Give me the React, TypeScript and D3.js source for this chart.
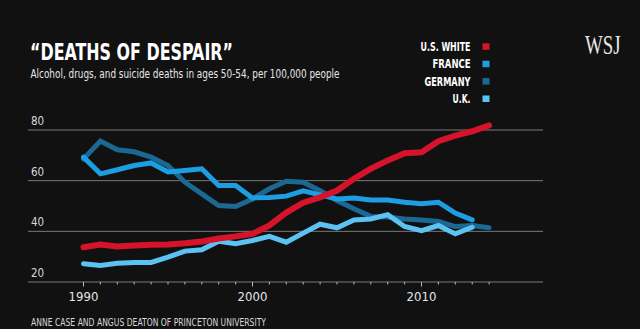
import React from "react";
import * as d3 from "d3";

const years = d3.range(1990, 2015);
const usWhite = [33.7, 34.8, 34.0, 34.4, 34.7, 34.8, 35.3, 36.0, 37.2, 38.0, 39.0, 42.3, 47.4, 51.3, 53.4, 56.1, 60.7, 64.7, 68.0, 70.8, 71.2, 75.6, 77.8, 79.5, 81.8];
const france = [69.3, 62.7, 64.3, 66.0, 67.0, 63.4, 64.0, 64.7, 58.1, 58.1, 53.2, 53.4, 53.9, 56.0, 54.4, 52.8, 53.2, 52.4, 52.4, 51.5, 50.9, 51.5, 47.2, 44.5];
const germany = [68.6, 75.6, 72.2, 71.4, 69.3, 66.0, 59.4, 54.8, 50.2, 49.8, 52.8, 56.8, 59.8, 59.4, 56.0, 52.2, 48.9, 45.9, 45.7, 44.9, 44.5, 43.9, 41.9, 42.3, 41.4];
const uk = [27.2, 26.5, 27.4, 27.7, 27.7, 29.8, 32.2, 32.7, 36.1, 35.1, 36.4, 38.0, 35.7, 39.3, 42.8, 41.4, 44.5, 44.9, 46.6, 41.9, 40.3, 42.3, 39.0, 41.6];
const yTicks = [20, 40, 60, 80];
const xLabels = [1990, 2000, 2010];
const legendNames = ["U.S. WHITE", "FRANCE", "GERMANY", "U.K."];
const legendWidths = [50, 38, 46, 18];

const COLORS = {
  us: "#d5132a",
  fr: "#1e9ee2",
  de: "#1b6992",
  uk: "#5cc2f3",
};

const NARROW = "'Liberation Sans Narrow', 'DejaVu Sans Condensed', 'Roboto', sans-serif";

export default function App() {
  const W = 640, H = 329;
  const x = d3.scaleLinear().domain([1990, 2010]).range([83.5, 421.5]);
  const y = d3.scaleLinear().domain([20, 80]).range([282, 130]);
  const line = (vals: number[]) =>
    d3.line<number>().x((_, i) => x(years[i])).y((v) => y(v))(vals) || "";

  const series = [
    { vals: germany, color: COLORS.de, w: 5 },
    { vals: france, color: COLORS.fr, w: 5 },
    { vals: uk, color: COLORS.uk, w: 5 },
    { vals: usWhite, color: COLORS.us, w: 6 },
  ];
  const legendColors = [COLORS.us, COLORS.fr, COLORS.de, COLORS.uk];

  return (
    <svg width={W} height={H} style={{ position: "absolute", left: 0, top: 0, background: "#111111" }}>
      <rect x={0} y={0} width={W} height={H} fill="#111111" />
      {/* title */}
      <text x={30} y={60} fill="#ffffff" fontFamily={NARROW} fontWeight="bold" fontSize={22.5} textLength={203} lengthAdjust="spacingAndGlyphs">
        “DEATHS OF DESPAIR”
      </text>
      <text x={30.5} y={78} fill="#e6e6e6" fontFamily={NARROW} fontSize={11.5} textLength={309} lengthAdjust="spacingAndGlyphs">
        Alcohol, drugs, and suicide deaths in ages 50-54, per 100,000 people
      </text>
      {/* legend */}
      {legendNames.map((n, i) => (
        <g key={n}>
          <text x={470.5} y={51 + i * 17.4} textAnchor="end" fill="#ffffff" fontFamily={NARROW} fontWeight="bold" fontSize={11.5} textLength={legendWidths[i]} lengthAdjust="spacingAndGlyphs">
            {n}
          </text>
          <rect x={482.5} y={43.3 + i * 17.4} width={7} height={6.5} fill={legendColors[i]} />
        </g>
      ))}
      {/* WSJ logo */}
      <text x={585} y={53.5} fill="#e8e8e8" fontFamily="'Liberation Serif', 'DejaVu Serif', serif" fontSize={28} textLength={35.5} lengthAdjust="spacingAndGlyphs">
        WSJ
      </text>
      {/* grid */}
      {yTicks.map((t) => (
        <g key={t}>
          <line x1={28} x2={543} y1={y(t)} y2={y(t)} stroke="#7a7a7a" strokeWidth={1} />
          <text x={31} y={y(t) - 5} fill="#d8d8d8" fontFamily={NARROW} fontSize={11.5}>
            {t}
          </text>
        </g>
      ))}
      {/* x ticks */}
      {years.map((yr) => (
        <line key={yr} x1={x(yr)} x2={x(yr)} y1={y(20)} y2={y(20) + (yr % 10 === 0 ? 4.5 : 2.5)} stroke="#bbbbbb" strokeWidth={1} />
      ))}
      {xLabels.map((yr) => (
        <text key={yr} x={x(yr)} y={301} textAnchor="middle" fill="#e6e6e6" fontFamily={NARROW} fontSize={13}>
          {yr}
        </text>
      ))}
      {/* lines */}
      {series.map((s, i) => (
        <path key={i} d={line(s.vals)} fill="none" stroke={s.color} strokeWidth={s.w} strokeLinejoin="miter" strokeLinecap="round" />
      ))}
      {/* source */}
      <text x={31} y={326} fill="#d8d8d8" fontFamily={NARROW} fontSize={10.5} textLength={235} lengthAdjust="spacingAndGlyphs">
        ANNE CASE AND ANGUS DEATON OF PRINCETON UNIVERSITY
      </text>
    </svg>
  );
}
